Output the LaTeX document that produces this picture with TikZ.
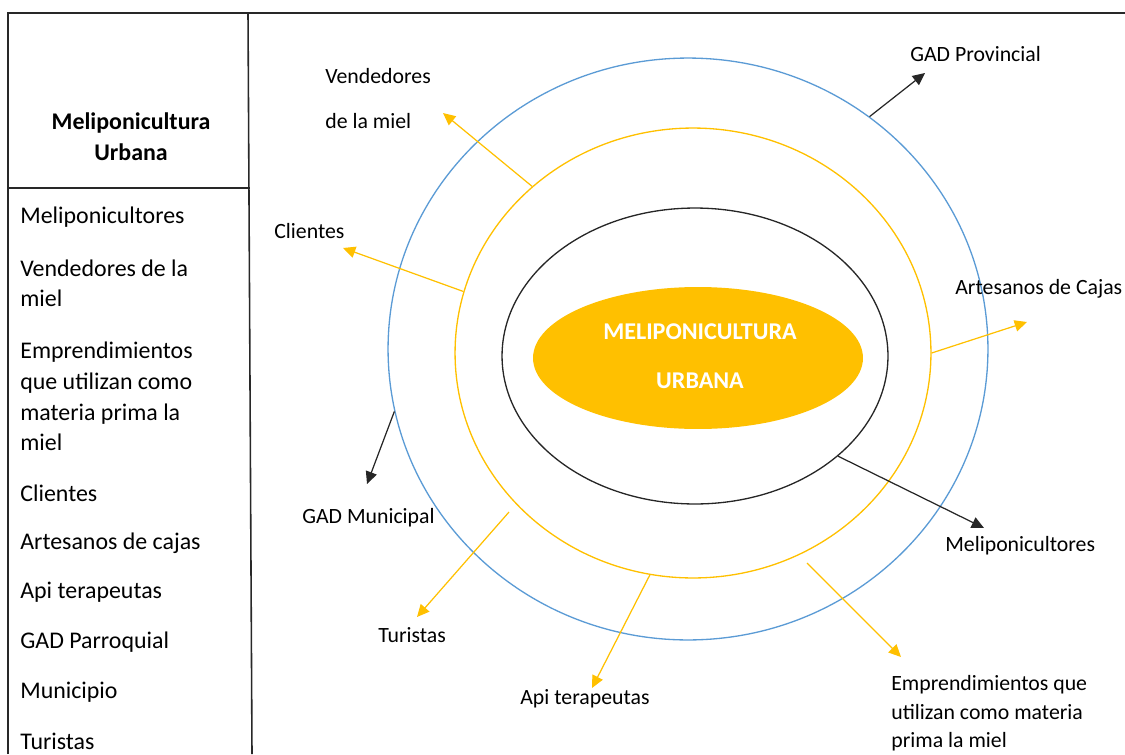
\documentclass[tikz,border=0pt]{standalone}
\usepackage{fontspec}
\setmainfont{Carlito}
\usetikzlibrary{arrows.meta,shapes,positioning}
\definecolor{mpyellow}{RGB}{255,192,0}
\definecolor{mpblue}{RGB}{91,155,213}
\definecolor{mpgray}{RGB}{40,40,40}
\tikzstyle{yarrow} = [line width=0.7pt,-{Triangle[length=7pt,width=6.5pt]},color=mpyellow]
\tikzstyle{barrow} = [line width=0.7pt,-{Triangle[length=7pt,width=6.5pt]},color=black!85]
\tikzstyle{ring} = [draw, ellipse, inner sep=0pt, line width=0.75pt]
\tikzstyle{lbl} = [anchor=west, inner sep=0pt, align=left, font=\fontsize{12.4}{16.2}\selectfont]
\tikzstyle{item} = [anchor=west, inner sep=0pt, align=left, font=\fontsize{13.6}{17.4}\selectfont]

\begin{document}
\begin{tikzpicture}[x=0.02cm, y=-0.02cm]
\useasboundingbox (0,0) rectangle (1125,754);

% table on the left
\draw[line width=0.9pt, mpgray] (8,754) -- (8,13) -- (1125,13);
\draw[line width=0.9pt, mpgray] (248,13) -- (252,754);
\draw[line width=0.9pt, mpgray] (8,188) -- (250,188);
\node[align=center, inner sep=0pt, font=\fontsize{13.6}{17.6}\selectfont\bfseries] (title) at (131,136.5) {Meliponicultura\\Urbana};

\node[item] (l1) at (20,217) {Meliponicultores};
\node[item, font=\fontsize{13.6}{17}\selectfont] (l2) at (20,283) {Vendedores de la\\miel};
\node[item] (l3) at (20,396.5) {Emprendimientos\\que utilizan como\\materia prima la\\miel};
\node[item] (l4) at (20,493) {Clientes};
\node[item] (l5) at (20,543) {Artesanos de cajas};
\node[item] (l6) at (20,592) {Api terapeutas};
\node[item] (l7) at (20,642) {GAD Parroquial};
\node[item] (l8) at (20,692) {Municipio};
\node[item] (l9) at (20,741) {Turistas};

% rings
\node[ring, mpblue, minimum width=12cm, minimum height=11.64cm] (blue) at (688,349) {};
\node[ring, mpyellow, minimum width=9.52cm, minimum height=9cm] (yel) at (693,353) {};
\node[ring, black!85, minimum width=7.72cm, minimum height=5.92cm] (core) at (695,356) {};
\node[ellipse, fill=mpyellow, inner sep=0pt, minimum width=6.6cm, minimum height=2.84cm] (center) at (698,358) {};
\node[align=center, text=white, font=\fontsize{13.7}{27.8}\selectfont\bfseries] (ctext) at (700,356.5) {MELIPONICULTURA\\URBANA};

% labels
\node[lbl, font=\fontsize{12.4}{25.5}\selectfont] (vend) at (325,98.5) {Vendedores\\de la miel};
\node[lbl] (cli) at (274,231) {Clientes};
\node[lbl] (gadp) at (910,54) {GAD Provincial};
\node[lbl] (art) at (955,289) {Artesanos de Cajas};
\node[lbl] (gadm) at (302,518) {GAD Municipal};
\node[lbl] (tur) at (378,635) {Turistas};
\node[lbl] (api) at (520,699) {Api terapeutas};
\node[lbl] (meli) at (945,546) {Meliponicultores};
\node[lbl] (empr) at (891,713.5) {Emprendimientos que\\utilizan como materia\\prima la miel};

% arrow ends
\coordinate (vendtip) at (443,113);
\coordinate (clitip) at (343,248);
\coordinate (gadptip) at (925,73);
\coordinate (arttip) at (1027,322);
\coordinate (gadmtip) at (367,484);
\coordinate (turstart) at (509,512);
\coordinate (turtip) at (417,617);
\coordinate (apitip) at (592,688);
\coordinate (melitip) at (984,528);
\coordinate (emprstart) at (807,563);
\coordinate (emprtip) at (901,657);

\draw[yarrow] (yel.134.8) -- (vendtip);
\draw[yarrow] (yel.165.2) -- (clitip);
\draw[yarrow] (yel.0) -- (arttip);
\draw[yarrow] (yel.259.9) -- (apitip);
\draw[yarrow] (turstart) -- (turtip);
\draw[yarrow] (emprstart) -- (emprtip);
\draw[barrow] (blue.52.2) -- (gadptip);
\draw[barrow] (blue.192.1) -- (gadmtip);
\draw[barrow] (core.325.9) -- (melitip);
\end{tikzpicture}
\end{document}
